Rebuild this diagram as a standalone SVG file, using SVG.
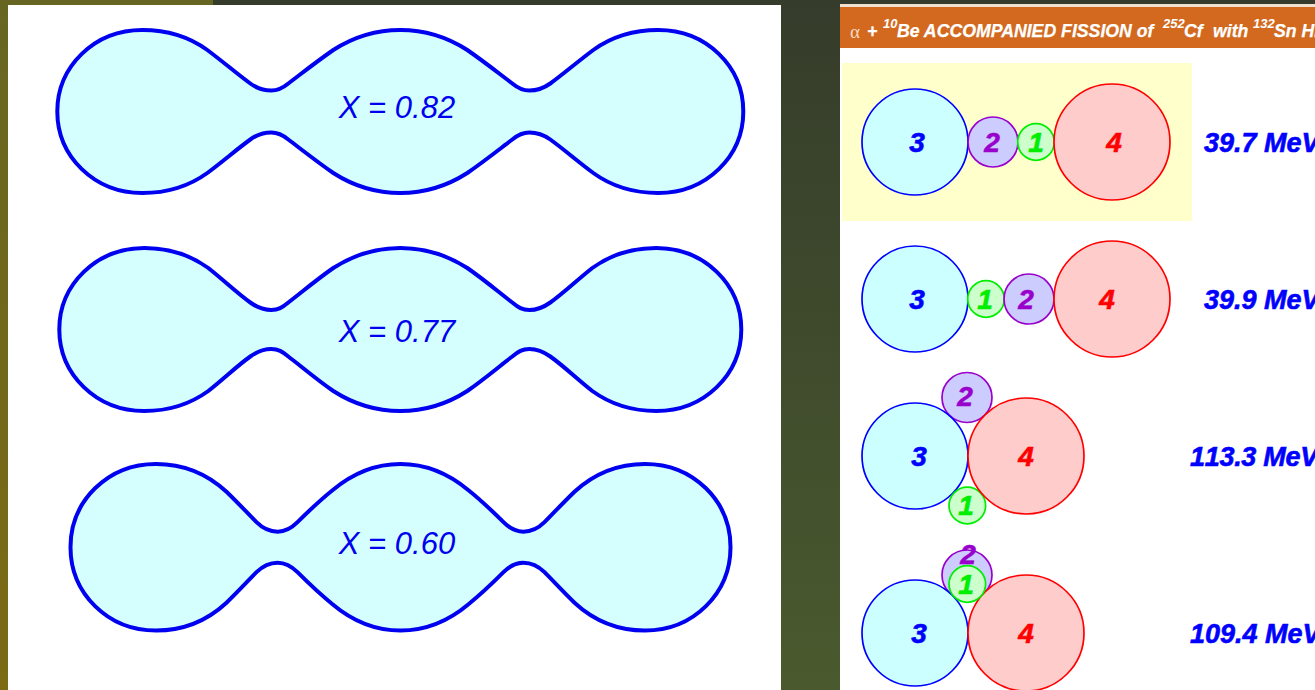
<svg xmlns="http://www.w3.org/2000/svg" width="1315" height="690" viewBox="0 0 1315 690">
<defs>
<linearGradient id="bgL" x1="0" y1="0" x2="0" y2="1"><stop offset="0" stop-color="#666622"/><stop offset="1" stop-color="#7c6a14"/></linearGradient>
<linearGradient id="bgR" x1="0" y1="0" x2="0" y2="1"><stop offset="0" stop-color="#353c2b"/><stop offset="1" stop-color="#4a5a2e"/></linearGradient>
</defs>
<style>
.drop{fill:#d5ffff;stroke:#0000f0;stroke-width:4;stroke-linejoin:round}
.x{font:italic 400 31px "Liberation Sans",Arial,sans-serif;fill:#0000f0;text-anchor:middle}
.n{font:italic bold 28px "Liberation Sans",Arial,sans-serif;text-anchor:middle;stroke-width:.6}
.e{font:italic bold 27px "Liberation Sans",Arial,sans-serif;fill:#0000ff;stroke:#0000ff;stroke-width:.6;font-kerning:none}
.t{font:italic bold 17.7px "Liberation Sans",Arial,sans-serif;fill:#fff;stroke:#fff;stroke-width:.25}
.s{font:italic bold 13px "Liberation Sans",Arial,sans-serif;fill:#fff}
.c3{fill:#ccffff;stroke:#0000ff;stroke-width:1.7}
.c4{fill:#ffcccc;stroke:#ff0000;stroke-width:1.7}
.c2{fill:#ccccff;stroke:#9900cc;stroke-width:1.7}
.c1{fill:#ccffcc;stroke:#00ee00;stroke-width:1.7}
.b{fill:#0000ff;stroke:#0000ff}.r{fill:#ff0000;stroke:#ff0000}.p{fill:#9900cc;stroke:#9900cc}.g{fill:#00ee00;stroke:#00ee00}
</style>
<rect width="1315" height="690" fill="#fff"/>
<rect x="0" y="0" width="8" height="690" fill="url(#bgL)"/>
<rect x="0" y="0" width="213" height="5" fill="#666622"/>
<rect x="213" y="0" width="627" height="5" fill="#353c2b"/>
<rect x="840" y="0" width="475" height="4" fill="#353c2b"/>
<rect x="781" y="0" width="59" height="690" fill="url(#bgR)"/>
<rect x="840" y="4" width="475" height="3" fill="#f0e0d0"/>
<rect x="840" y="7" width="475" height="41" fill="#d2691e"/>

<g id="shape-x082">
<path class="drop" transform="translate(400.3,111.5)" d="M-343,0 C-343,-45 -306,-81.5 -258,-81.5 C-234,-81.5 -213,-76 -193,-61.5 C-175,-48 -165,-39 -150,-28 C-143,-23 -137,-21 -129,-21 C-122,-21 -118,-23 -112,-28 C-100,-37 -85,-49 -67,-61.5 C-46,-75 -25,-81.5 0,-81.5 C25,-81.5 46,-75 67,-61.5 C85,-49 100,-37 112,-28 C118,-23 122,-21 129,-21 C137,-21 143,-23 150,-28 C165,-39 175,-48 193,-61.5 C213,-76 234,-81.5 258,-81.5 C306,-81.5 343,-45 343,0 C343,45 306,81.5 258,81.5 C234,81.5 213,76 193,61.5 C175,48 165,39 150,28 C143,23 137,21 129,21 C122,21 118,23 112,28 C100,37 85,49 67,61.5 C46,75 25,81.5 0,81.5 C-25,81.5 -46,75 -67,61.5 C-85,49 -100,37 -112,28 C-118,23 -122,21 -129,21 C-137,21 -143,23 -150,28 C-165,39 -175,48 -193,61.5 C-213,76 -234,81.5 -258,81.5 C-306,81.5 -343,45 -343,0Z"/>
<text class="x" x="397" y="118">X = 0.82</text>
</g>
<g id="shape-x077">
<path class="drop" transform="translate(400.3,329.5)" d="M-341,0 C-341,-45 -304,-81.5 -256,-81.5 C-232,-81.5 -212,-76 -192,-61.5 C-175,-48 -164,-37 -150,-27 C-143,-22 -137,-19.5 -129,-19.5 C-122,-19.5 -118,-22 -112,-27 C-100,-36 -85,-49 -67,-61.5 C-46,-75 -25,-81.5 0,-81.5 C25,-81.5 46,-75 67,-61.5 C85,-49 100,-36 112,-27 C118,-22 122,-19.5 129,-19.5 C137,-19.5 143,-22 150,-27 C164,-37 175,-48 192,-61.5 C212,-76 232,-81.5 256,-81.5 C304,-81.5 341,-45 341,0 C341,45 304,81.5 256,81.5 C232,81.5 212,76 192,61.5 C175,48 164,37 150,27 C143,22 137,19.5 129,19.5 C122,19.5 118,22 112,27 C100,36 85,49 67,61.5 C46,75 25,81.5 0,81.5 C-25,81.5 -46,75 -67,61.5 C-85,49 -100,36 -112,27 C-118,22 -122,19.5 -129,19.5 C-137,19.5 -143,22 -150,27 C-164,37 -175,48 -192,61.5 C-212,76 -232,81.5 -256,81.5 C-304,81.5 -341,45 -341,0Z"/>
<text class="x" x="397" y="342">X = 0.77</text>
</g>
<g id="shape-x060">
<path class="drop" transform="translate(400.5,547.2)" d="M-330,0 C-330,-46 -293,-83.3 -244.5,-83.3 C-216,-83.3 -194,-74 -174,-55.5 C-162,-44 -153,-34 -144,-25 C-138,-19 -131,-15.5 -122.8,-15.5 C-115,-15.5 -109,-19 -103,-25 C-94,-34 -83,-45 -68,-57 C-49,-73 -26,-83.3 0,-83.3 C26,-83.3 49,-73 68,-57 C83,-45 94,-34 103,-25 C109,-19 115,-15.5 122.8,-15.5 C131,-15.5 138,-19 144,-25 C153,-34 162,-44 174,-55.5 C194,-74 216,-83.3 244.5,-83.3 C293,-83.3 330,-46 330,0 C330,46 293,83.3 244.5,83.3 C216,83.3 194,74 174,55.5 C162,44 153,34 144,25 C138,19 131,15.5 122.8,15.5 C115,15.5 109,19 103,25 C94,34 83,45 68,57 C49,73 26,83.3 0,83.3 C-26,83.3 -49,73 -68,57 C-83,45 -94,34 -103,25 C-109,19 -115,15.5 -122.8,15.5 C-131,15.5 -138,19 -144,25 C-153,34 -162,44 -174,55.5 C-194,74 -216,83.3 -244.5,83.3 C-293,83.3 -330,46 -330,0Z"/>
<text class="x" x="397" y="554">X = 0.60</text>
</g>

<g id="title">
<text x="850" y="38" font-family="'Liberation Serif',serif" font-size="19" fill="#f8d8c0">α</text>
<text class="t" x="867" y="37">+</text>
<text class="s" x="883" y="28">10</text>
<text class="t" x="897" y="37">Be ACCOMPANIED FISSION of</text>
<text class="s" x="1163" y="28">252</text>
<text class="t" x="1184" y="37">Cf</text>
<text class="t" x="1213" y="37">with</text>
<text class="s" x="1253" y="28">132</text>
<text class="t" x="1274" y="37">Sn HE</text>
</g>

<rect id="highlight" x="842" y="63" width="350" height="158" fill="#ffffcc"/>

<g id="row1">
<circle class="c3" cx="915" cy="142" r="53"/><circle class="c2" cx="993" cy="142" r="25"/><circle class="c1" cx="1036" cy="142" r="18.3"/><circle class="c4" cx="1112" cy="142" r="58"/>
<text class="n b" x="917" y="152">3</text><text class="n p" x="992" y="152">2</text><text class="n g" x="1036" y="152">1</text><text class="n r" x="1114" y="152">4</text>
<text class="e" x="1204" y="152">39.7 MeV</text>
</g>
<g id="row2">
<circle class="c3" cx="915" cy="299" r="53"/><circle class="c1" cx="986" cy="299" r="18.3"/><circle class="c2" cx="1029" cy="299" r="25"/><circle class="c4" cx="1112" cy="299" r="58"/>
<text class="n b" x="917" y="309">3</text><text class="n g" x="985" y="309">1</text><text class="n p" x="1026" y="309">2</text><text class="n r" x="1107" y="309">4</text>
<text class="e" x="1204" y="309">39.9 MeV</text>
</g>
<g id="row3">
<circle class="c2" cx="967" cy="397.5" r="25"/><circle class="c3" cx="915" cy="456" r="53"/><circle class="c1" cx="967.3" cy="505.5" r="18.3"/><circle class="c4" cx="1026" cy="456" r="58"/>
<text class="n b" x="919" y="466">3</text><text class="n p" x="965" y="406">2</text><text class="n g" x="966" y="515">1</text><text class="n r" x="1026" y="466">4</text>
<text class="e" x="1190" y="466" letter-spacing="-.3">113.3 MeV</text>
</g>
<g id="row4">
<circle class="c2" cx="967" cy="575" r="25"/><circle class="c3" cx="915" cy="633" r="53"/><circle class="c4" cx="1026" cy="633" r="58"/><circle class="c1" cx="967.3" cy="584" r="18.3"/>
<text class="n p" x="968" y="564">2</text><text class="n g" x="966" y="594">1</text><text class="n b" x="919" y="643">3</text><text class="n r" x="1026" y="643">4</text>
<text class="e" x="1190" y="643">109.4 MeV</text>
</g>
</svg>
